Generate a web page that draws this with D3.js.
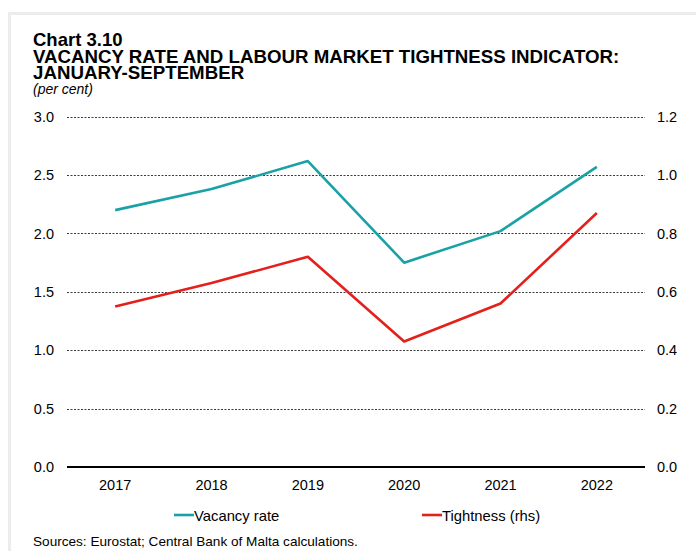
<!DOCTYPE html>
<html>
<head>
<meta charset="utf-8">
<script src="https://cdn.jsdelivr.net/npm/d3@7"></script>
<style>
  html, body { margin: 0; padding: 0; background: #fff; }
  svg { display: block; font-family: "Liberation Sans", Arial, sans-serif; }
</style>
</head>
<body>
<svg id="chart" width="696" height="551"></svg>
<script>
// Years on the horizontal axis
const years = ["2017", "2018", "2019", "2020", "2021", "2022"];
// Job vacancy rate, per cent (left axis)
const vacancyRate = [2.20, 2.38, 2.62, 1.75, 2.02, 2.57];
// Labour market tightness indicator (right axis)
const tightness = [0.55, 0.63, 0.72, 0.43, 0.56, 0.87];
// Axis ticks
const leftTicks = [0, 0.5, 1.0, 1.5, 2.0, 2.5, 3.0];
const rightTicks = [0, 0.2, 0.4, 0.6, 0.8, 1.0, 1.2];

const teal = "#1aa1a6";
const red = "#e3201b";
const fontFamily = "'Liberation Sans', Arial, sans-serif";

const svg = d3.select("#chart");

// light frame along the top and left edges
svg.append("rect").attr("x", 8).attr("y", 12).attr("width", 700).attr("height", 3).attr("fill", "#ececec");
svg.append("rect").attr("x", 8).attr("y", 12).attr("width", 3).attr("height", 560).attr("fill", "#ececec");

// titles
const title = svg.append("g").attr("fill", "#000");
title.append("text").attr("x", 33).attr("y", 45.5).attr("font-size", 18.5).attr("font-weight", "bold").text("Chart 3.10");
title.append("text").attr("x", 33).attr("y", 62.5).attr("font-size", 18.7).attr("font-weight", "bold")
  .text("VACANCY RATE AND LABOUR MARKET TIGHTNESS INDICATOR:");
title.append("text").attr("x", 33).attr("y", 79).attr("font-size", 18.7).attr("font-weight", "bold")
  .text("JANUARY-SEPTEMBER");
title.append("text").attr("x", 33).attr("y", 94).attr("font-size", 14).attr("font-style", "italic")
  .text("(per cent)");

// plot area
const plot = { left: 67, right: 645, top: 116.7, bottom: 467 };

const x = d3.scaleBand().domain(years).range([plot.left, plot.right]);
const yL = d3.scaleLinear().domain([0, 3.0]).range([plot.bottom, plot.top]);
const yR = d3.scaleLinear().domain([0, 1.2]).range([plot.bottom, plot.top]);

// dashed gridlines
svg.append("g")
  .selectAll("line")
  .data(leftTicks.filter(d => d > 0))
  .join("line")
  .attr("x1", plot.left).attr("x2", plot.right)
  .attr("y1", d => Math.round(yL(d)) + 0.5).attr("y2", d => Math.round(yL(d)) + 0.5)
  .attr("stroke", "#3a3a3a").attr("stroke-width", 1).attr("stroke-dasharray", "2,1.5");

const styleTicks = g => g.selectAll("text")
  .attr("font-size", 14.5).attr("fill", "#000").attr("font-family", fontFamily);

// left axis labels
const leftAxis = d3.axisLeft(yL).tickValues(leftTicks).tickFormat(d3.format(".1f")).tickSize(0).tickPadding(13);
svg.append("g").attr("transform", `translate(${plot.left},0)`).call(leftAxis)
  .call(g => g.select(".domain").remove())
  .call(styleTicks);

// right axis labels
const rightAxis = d3.axisRight(yR).tickValues(rightTicks).tickFormat(d3.format(".1f")).tickSize(0).tickPadding(12);
svg.append("g").attr("transform", `translate(${plot.right},0)`).call(rightAxis)
  .call(g => g.select(".domain").remove())
  .call(styleTicks);

// x axis
const xAxis = d3.axisBottom(x).tickSize(0).tickPadding(13);
svg.append("g").attr("transform", `translate(0,${plot.bottom})`).call(xAxis)
  .call(g => g.select(".domain").remove())
  .call(styleTicks);

// zero line
svg.append("line")
  .attr("x1", plot.left).attr("x2", plot.right)
  .attr("y1", yL(0)).attr("y2", yL(0))
  .attr("stroke", "#000").attr("stroke-width", 2);

const cx = d => x(d) + x.bandwidth() / 2;

// series lines
svg.append("path")
  .datum(vacancyRate)
  .attr("fill", "none").attr("stroke", teal).attr("stroke-width", 2.6).attr("stroke-linejoin", "round")
  .attr("d", d3.line().x((d, i) => cx(years[i])).y(d => yL(d)));

svg.append("path")
  .datum(tightness)
  .attr("fill", "none").attr("stroke", red).attr("stroke-width", 2.6).attr("stroke-linejoin", "round")
  .attr("d", d3.line().x((d, i) => cx(years[i])).y(d => yR(d)));

// legend
const legendItems = [
  { label: "Vacancy rate", color: teal, x: 174 },
  { label: "Tightness (rhs)", color: red, x: 422 }
];
const lg = svg.append("g").selectAll("g").data(legendItems).join("g")
  .attr("transform", d => `translate(${d.x},515)`);
lg.append("line").attr("x1", 0).attr("x2", 20).attr("y1", 0).attr("y2", 0)
  .attr("stroke", d => d.color).attr("stroke-width", 2.6);
lg.append("text").attr("x", 20).attr("y", 5.5).attr("font-size", 14.8).attr("fill", "#000").text(d => d.label);

// source note
svg.append("text").attr("x", 33).attr("y", 546).attr("font-size", 13.6).attr("fill", "#000")
  .text("Sources: Eurostat; Central Bank of Malta calculations.");
</script>
</body>
</html>
